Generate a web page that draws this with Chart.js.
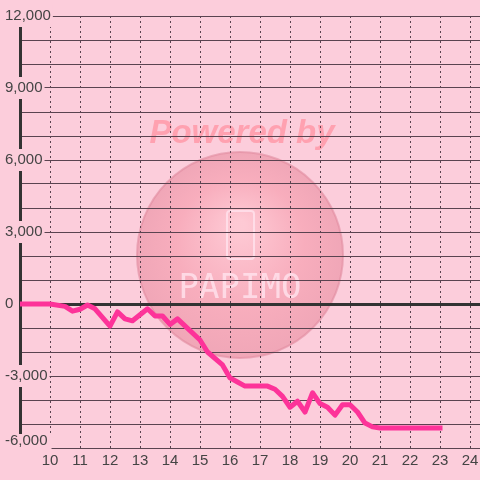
<!DOCTYPE html>
<html>
<head>
<meta charset="utf-8">
<script src="https://cdn.jsdelivr.net/npm/chart.js@4/dist/chart.umd.min.js"></script>
<style>
  html, body { margin: 0; padding: 0; background: #fccddb; }
  #wrap { width: 480px; height: 480px; }
</style>
</head>
<body>
<div id="wrap"><canvas id="chart"></canvas></div>
<script>
const days = [9, 10, 10.5, 10.75, 11, 11.25, 11.5, 12, 12.25, 12.5, 12.75, 13.25, 13.5, 13.75, 14, 14.25, 15, 15.25, 15.75, 16, 16.25, 16.5, 17.25, 17.5, 17.75, 18, 18.25, 18.5, 18.75, 19, 19.25, 19.5, 19.75, 20, 20.25, 20.5, 20.75, 21, 23];
const balance = [0, 0, -100, -300, -220, -40, -200, -920, -330, -620, -700, -200, -500, -500, -850, -620, -1500, -2000, -2540, -3080, -3250, -3420, -3420, -3550, -3850, -4300, -4050, -4500, -3700, -4150, -4300, -4630, -4200, -4200, -4500, -4960, -5120, -5170, -5170];
const yMin = -6000;
const yMax = 12000;
const yLabelStep = 3000;

const bg = "#fccddb";
const gridColor = "#5a4350";
const axisColor = "#333333";
const textColor = "#444444";
const fontFamily = "'Liberation Sans', Arial, sans-serif";

// background + "Powered by" watermark
const backdrop = {
  id: "backdrop",
  beforeDraw(chart) {
    const ctx = chart.ctx;
    ctx.save();
    ctx.fillStyle = bg;
    ctx.fillRect(0, 0, chart.width, chart.height);

    const cx = 240, cy = 255, r = 103;
    const g = ctx.createRadialGradient(cx, cy - 30, 5, cx, cy, r);
    g.addColorStop(0, "rgba(255, 200, 210, 0.75)");
    g.addColorStop(0.6, "rgba(246, 160, 176, 0.7)");
    g.addColorStop(1, "rgba(235, 150, 168, 0.7)");
    ctx.fillStyle = g;
    ctx.beginPath();
    ctx.arc(cx, cy, r, 0, Math.PI * 2);
    ctx.fill();
    ctx.strokeStyle = "rgba(225, 140, 160, 0.6)";
    ctx.lineWidth = 2;
    ctx.stroke();

    ctx.fillStyle = "rgba(255, 150, 165, 0.8)";
    ctx.font = "italic bold 33px " + fontFamily;
    ctx.textAlign = "center";
    ctx.textBaseline = "middle";
    ctx.fillText("Powered by", 242, 134);

    ctx.strokeStyle = "rgba(255, 225, 235, 0.85)";
    ctx.lineWidth = 2;
    ctx.beginPath();
    ctx.roundRect(227, 211, 27, 48, 3);
    ctx.stroke();

    ctx.fillStyle = "rgba(255, 225, 235, 0.85)";
    ctx.font = "34px 'DejaVu Sans Mono', monospace";
    ctx.fillText("PAPIMO", 240, 289);
    ctx.restore();
  }
};

const fmt = (v) => v.toLocaleString("en-US");

new Chart(document.getElementById("chart"), {
  type: "line",
  data: {
    datasets: [
      {
        data: days.map((d, i) => ({ x: d, y: balance[i] })),
        borderColor: "#fd3399",
        borderWidth: 5,
        borderJoinStyle: "round",
        borderCapStyle: "square",
        pointRadius: 0,
        tension: 0,
        fill: false,
      },
    ],
  },
  options: {
    responsive: true,
    maintainAspectRatio: false,
    animation: false,
    layout: { padding: { left: 5, top: 16, right: 0, bottom: 6 } },
    plugins: {
      legend: { display: false },
      tooltip: { enabled: false },
    },
    scales: {
      x: {
        type: "linear",
        min: 9,
        max: 24.333,
        border: { display: false, dash: [2, 3] },
        grid: {
          color: gridColor,
          lineWidth: (c) => (c.tick && c.tick.value === 9 ? 0 : 1),
          drawTicks: false,
        },
        afterFit: (axis) => { axis.paddingLeft = 0; axis.paddingRight = 0; },
        ticks: {
          stepSize: 1,
          includeBounds: false,
          autoSkip: false,
          maxRotation: 0,
          padding: 4,
          color: textColor,
          font: { family: fontFamily, size: 15 },
          callback: (v) => (v === 9 ? "" : v),
        },
      },
      y: {
        min: yMin,
        max: yMax,
        border: { display: true, color: axisColor, width: 3 },
        grid: {
          color: (c) => (c.tick && c.tick.value === 0 ? axisColor : gridColor),
          lineWidth: (c) => (c.tick && c.tick.value === 0 ? 3 : 1),
          drawTicks: false,
        },
        afterFit: (axis) => { axis.width = 15; },
        ticks: {
          stepSize: 1000,
          autoSkip: false,
          mirror: true,
          padding: -15,
          color: textColor,
          font: { family: fontFamily, size: 15 },
          showLabelBackdrop: (c) => c.tick.value % yLabelStep === 0 && c.tick.value !== yMin,
          backdropColor: bg,
          backdropPadding: 2,
          callback: (v) => (v % yLabelStep === 0 && v !== yMin ? fmt(v) : ""),
        },
      },
      // the bottom label sits a little above its line, so it gets its own axis
      yBottom: {
        type: "linear",
        position: "left",
        weight: 1,
        min: yMin,
        max: yMax,
        border: { display: false },
        grid: { display: false },
        afterFit: (axis) => { axis.width = 0; },
        ticks: {
          z: 1,
          stepSize: 1000,
          autoSkip: false,
          mirror: true,
          padding: 0,
          labelOffset: -7,
          color: textColor,
          font: { family: fontFamily, size: 15 },
          showLabelBackdrop: (c) => c.tick.value === yMin,
          backdropColor: bg,
          backdropPadding: { top: -2, bottom: 0, left: 3, right: 4 },
          callback: (v) => (v === yMin ? fmt(v) : ""),
        },
      },
    },
  },
  plugins: [backdrop],
});
</script>
</body>
</html>
